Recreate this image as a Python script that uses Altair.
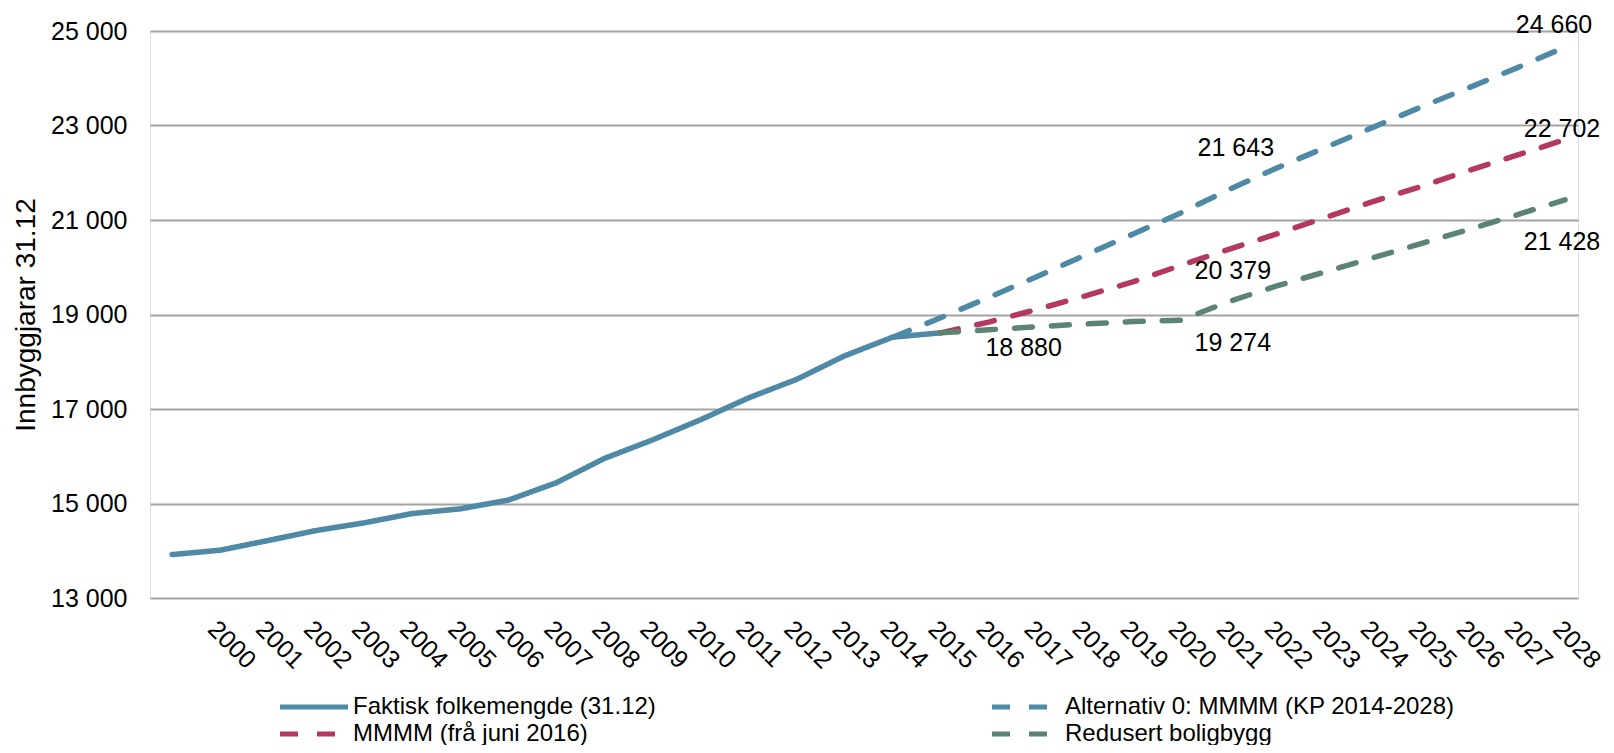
import altair as alt
import pandas as pd

# ---- data ----
S1 = "Faktisk folkemengde (31.12)"
S2 = "Alternativ 0: MMMM (KP 2014-2028)"
S3 = "MMMM (frå juni 2016)"
S4 = "Redusert boligbygg"

years_faktisk = list(range(1999, 2016))
faktisk = [13919, 14011, 14216, 14428, 14590, 14788, 14887, 15071, 15440,
           15954, 16345, 16772, 17235, 17626, 18125, 18520, 18612]

years_alt0 = list(range(2014, 2029))
alt0 = [18520, 18930, 19360, 19800, 20250, 20700, 21150, 21643, 22100,
        22530, 22960, 23390, 23800, 24220, 24660]

years_proj = list(range(2015, 2029))
mmmm = [18612, 18840, 19106, 19390, 19690, 20040, 20379, 20706, 21049,
        21390, 21708, 22048, 22371, 22702]
redusert = [18612, 18676, 18740, 18800, 18850, 18880, 19274, 19605, 19900,
            20200, 20500, 20800, 21110, 21428]

label_years = [2021, 2021, 2021, 2017, 2028, 2028, 2028]
label_values = [21643, 20379, 19274, 18880, 24660, 22702, 21428]

x_ticks = list(range(2000, 2029))
y_ticks = [13000, 15000, 17000, 19000, 21000, 23000, 25000]

# legend is laid out column by column: this order gives rows
# [Faktisk, Alternativ 0] / [MMMM, Redusert]
series_order = [S1, S3, S2, S4]
colors = ["#4E89A5", "#B43860", "#4E89A5", "#5C8472"]
dashes = [[1, 0], [18, 19], [18, 19], [18, 19]]
draw_order = [S1, S2, S3, S4]

# ---- tables ----
rows = []
for s, ys, vs in [(S1, years_faktisk, faktisk), (S2, years_alt0, alt0),
                  (S3, years_proj, mmmm), (S4, years_proj, redusert)]:
    for y, v in zip(ys, vs):
        rows.append({"series": s, "year": y, "value": v})
df = pd.DataFrame(rows)

lbl = pd.DataFrame({"idx": list(range(len(label_years))),
                    "year": label_years, "value": label_values})

FONT = "Liberation Sans"

x_enc = alt.X("year:Q",
              scale=alt.Scale(domain=[1998.54, 2028.27], nice=False, zero=False),
              axis=alt.Axis(values=x_ticks, format="d", labelAngle=45,
                            labelAlign="left", labelBaseline="top",
                            labelPadding=18, labelFontSize=25,
                            labelOverlap=False, labelFlush=False,
                            domain=False, ticks=False, grid=False, title=None))
y_enc = alt.Y("value:Q",
              scale=alt.Scale(domain=[13000, 25000], nice=False, zero=False),
              axis=alt.Axis(values=y_ticks,
                            labelExpr="replace(format(datum.value, ','), ',', ' ')",
                            labelFontSize=25, labelPadding=23,
                            title="Innbyggjarar 31.12", titleFontSize=28,
                            titleFontWeight="normal", titlePadding=10,
                            grid=True, gridColor="#A3A3A3", gridWidth=2,
                            domain=False, ticks=False))

# a long horizontal stroke symbol that keeps a small layout box,
# so the two legend rows stay close together
legend_def = dict(title=None, orient="none", legendX=152, legendY=664,
                  columns=2, columnPadding=325, rowPadding=3,
                  symbolType="M-5,0H5", symbolSize=185, symbolStrokeWidth=5,
                  labelFontSize=24, labelOffset=27, labelFont=FONT,
                  labelColor="black", labelLimit=600)

color_enc = alt.Color("series:N",
                      scale=alt.Scale(domain=series_order, range=colors),
                      legend=alt.Legend(**legend_def))
dash_enc = alt.StrokeDash("series:N",
                          scale=alt.Scale(domain=series_order, range=dashes),
                          legend=alt.Legend(**legend_def))

base = alt.Chart(df)
lines = []
for s in draw_order:
    lines.append(
        base.transform_filter(alt.datum.series == s)
        .mark_line(strokeWidth=5.5, strokeCap="round", strokeJoin="round")
        .encode(x=x_enc, y=y_enc, color=color_enc, strokeDash=dash_enc)
    )

offsets = [(7, -42), (4, 22), (4, 41), (-13, 28), (-11, -22), (-3, -11), (-3, 42)]
labels = []
for i, (dx, dy) in enumerate(offsets):
    labels.append(
        alt.Chart(lbl)
        .transform_filter(alt.datum.idx == i)
        .transform_calculate(txt="replace(format(datum.value, ','), ',', ' ')")
        .mark_text(dx=dx, dy=dy, fontSize=25, font=FONT, color="black",
                   align="center", baseline="middle")
        .encode(x=x_enc, y=y_enc, text="txt:N")
    )

chart = (
    alt.layer(*lines, *labels)
    .properties(width=1428, height=567,
                padding={"left": 142, "top": 23, "right": 28, "bottom": 147},
                autosize=alt.AutoSizeParams(type="none"))
    .configure_view(stroke=None)
    .configure_axis(labelFont=FONT, titleFont=FONT, labelColor="black",
                    titleColor="black")
    .configure(background="white")
)

chart.save("out.html", embed_options={"renderer": "svg", "actions": False})
